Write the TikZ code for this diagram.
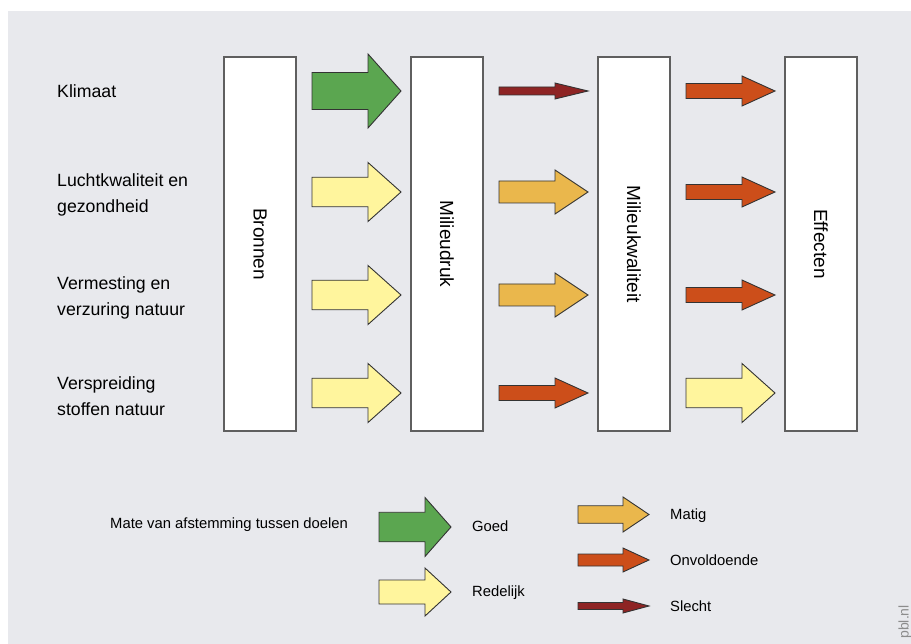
\documentclass[tikz,border=0pt]{standalone}
\usepackage{fontspec}
\setmainfont{Liberation Sans}
\usetikzlibrary{positioning, calc}

\definecolor{achtergrond}{RGB}{232,233,237}
\definecolor{goed}{RGB}{91,166,80}
\definecolor{redelijk}{RGB}{255,245,157}
\definecolor{matig}{RGB}{234,183,76}
\definecolor{onvoldoende}{RGB}{204,78,26}
\definecolor{slecht}{RGB}{142,36,36}
\definecolor{rand}{RGB}{95,95,95}

% blokpijl: start (links midden), lengte, kophoogte, koplengte, kleur
\newcommand{\blokpijl}[5]{%
  \filldraw[pijlrand, fill=#5] (#1) ++(0,-#3/4) -- ++(#2-#4,0) -- ++(0,-#3/4)
    -- ++(#4,#3/2) -- ++(-#4,#3/2) -- ++(0,-#3/4) -- ++(-#2+#4,0) -- cycle;}
% pijl tussen twee kolommen: van, rij, kophoogte, kleur
\newcommand{\pijl}[4]{\blokpijl{$(#1.east |- #2)+(16,0)$}{89}{#3}{33}{#4}}

\begin{document}
\begin{tikzpicture}[x=1pt, y=-1pt, line join=miter,
  kolom/.style={draw=rand, line width=1.3pt, fill=white, outer sep=0pt,
    minimum width=72pt, minimum height=374pt, inner sep=0pt},
  kolomtekst/.style={rotate=-90, inner sep=0pt, font=\fontsize{19}{23}\selectfont},
  pijlrand/.style={draw=black!80, line width=0.9pt},
  rijlabel/.style={anchor=west, align=left, inner sep=0pt,
    font=\fontsize{17.7}{26.5}\selectfont},
  legenda/.style={anchor=west, inner sep=0pt, font=\fontsize{14.8}{18}\selectfont}]

  \useasboundingbox (0,0) rectangle (911,644);
  \fill[achtergrond] (8,11) rectangle (911,644);

  %--- kolommen
  \node[kolom] (bronnen) at (260,244) {};
  \node[kolom, right=115pt of bronnen] (milieudruk) {};
  \node[kolom, right=115pt of milieudruk] (kwaliteit) {};
  \node[kolom, right=115pt of kwaliteit] (effecten) {};

  \node[kolomtekst] (bronnentekst) at (bronnen) {Bronnen};
  \node[kolomtekst] (druktekst) at (milieudruk) {Milieudruk};
  \node[kolomtekst] (kwaliteittekst) at (kwaliteit) {Milieukwaliteit};
  \node[kolomtekst] (effectentekst) at (effecten) {Effecten};

  %--- rijen en labels
  \coordinate (rij1) at (0,91);
  \coordinate (rij2) at (0,192);
  \coordinate (rij3) at (0,295);
  \coordinate (rij4) at (0,393);

  \node[rijlabel] (klimaat) at (57,91) {Klimaat};
  \node[rijlabel] (lucht) at (57,195) {Luchtkwaliteit en\\gezondheid};
  \node[rijlabel] (vermesting) at (57,298) {Vermesting en\\verzuring natuur};
  \node[rijlabel] (verspreiding) at (57,396) {Verspreiding\\stoffen natuur};

  %--- pijlen
  \pijl{bronnen}{rij1}{74}{goed}
  \pijl{milieudruk}{rij1}{16}{slecht}
  \pijl{kwaliteit}{rij1}{30}{onvoldoende}

  \pijl{bronnen}{rij2}{59}{redelijk}
  \pijl{milieudruk}{rij2}{44}{matig}
  \pijl{kwaliteit}{rij2}{30}{onvoldoende}

  \pijl{bronnen}{rij3}{59}{redelijk}
  \pijl{milieudruk}{rij3}{44}{matig}
  \pijl{kwaliteit}{rij3}{30}{onvoldoende}

  \pijl{bronnen}{rij4}{59}{redelijk}
  \pijl{milieudruk}{rij4}{30}{onvoldoende}
  \pijl{kwaliteit}{rij4}{59}{redelijk}

  %--- legenda
  \node[legenda] (mate) at (110,524.5) {Mate van afstemming tussen doelen};

  \blokpijl{379,527}{72}{59}{26}{goed}
  \blokpijl{379,592}{72}{48}{26}{redelijk}
  \blokpijl{578,514.5}{71}{35}{26}{matig}
  \blokpijl{578,560}{71}{24}{26}{onvoldoende}
  \blokpijl{578,606}{71}{14}{26}{slecht}

  \node[legenda] (goedtekst) at (472,526) {Goed};
  \node[legenda] (redelijktekst) at (472,592.5) {Redelijk};
  \node[legenda] (matigtekst) at (670,515.5) {Matig};
  \node[legenda] (onvoldoendetekst) at (670,560) {Onvoldoende};
  \node[legenda] (slechttekst) at (670,606) {Slecht};

  %--- bron
  \node[rotate=90, anchor=east, inner sep=0pt, text=black!45,
    font=\fontsize{14}{16}\selectfont] (pbl) at (905,605) {pbl.nl};
\end{tikzpicture}
\end{document}
